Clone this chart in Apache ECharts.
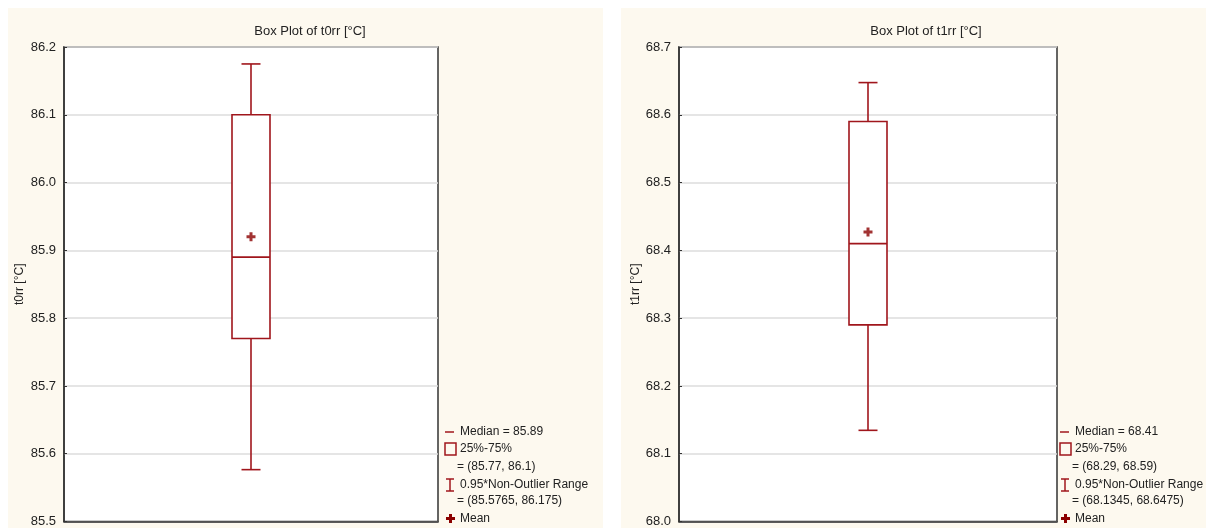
<!DOCTYPE html>
<html>
<head>
<meta charset="utf-8">
<script src="https://cdn.jsdelivr.net/npm/echarts@6/dist/echarts.min.js"></script>
<style>
html,body{margin:0;padding:0;background:#fff;}
#c{width:1206px;height:528px;}
</style>
</head>
<body>
<div id="c"></div>
<script>
// ---- data ----
const categories = ['t0rr', 't1rr'];
const titles = ['Box Plot of t0rr [°C]', 'Box Plot of t1rr [°C]'];
const axisNames = ['t0rr [°C]', 't1rr [°C]'];
const whiskerLow = [85.5765, 68.1345];
const q1 = [85.77, 68.29];
const median = [85.89, 68.41];
const q3 = [86.1, 68.59];
const whiskerHigh = [86.175, 68.6475];
const means = [85.92, 68.427];
const yMin = [85.5, 68.0];
const yMax = [86.2, 68.7];
const yStep = 0.1;

// ---- styling / layout ----
const FONT = 'Liberation Sans, Arial, sans-serif';
const BOX = '#a0161c';
const MEAN = '#8b0000';
const TXT = '#222';
const panels = [
  {px: 8, pw: 595, gl: 64, gw: 374, titleX: 305, symX: 445, txtX: 460, eqX: 457, nameGap: 38},
  {px: 621, pw: 585, gl: 679, gw: 378, titleX: 921, symX: 1060, txtX: 1075, eqX: 1072, nameGap: 37}
];
const GT = 47, GH = 475;

const chart = echarts.init(document.getElementById('c'));

function renderBox(params, api) {
  const x = api.value(0);
  const lo = api.coord([x, api.value(1)]);
  const b1 = api.coord([x, api.value(2)]);
  const md = api.coord([x, api.value(3)]);
  const b3 = api.coord([x, api.value(4)]);
  const hi = api.coord([x, api.value(5)]);
  const cx = Math.round(lo[0]);
  const bw = 38, cw = 19;
  const st = {stroke: BOX, lineWidth: 1.6, fill: null};
  return {
    type: 'group',
    children: [
      {type: 'line', shape: {x1: cx, y1: hi[1], x2: cx, y2: b3[1]}, style: st},
      {type: 'line', shape: {x1: cx - cw / 2, y1: hi[1], x2: cx + cw / 2, y2: hi[1]}, style: st},
      {type: 'line', shape: {x1: cx, y1: lo[1], x2: cx, y2: b1[1]}, style: st},
      {type: 'line', shape: {x1: cx - cw / 2, y1: lo[1], x2: cx + cw / 2, y2: lo[1]}, style: st},
      {type: 'rect', shape: {x: cx - bw / 2, y: b3[1], width: bw, height: b1[1] - b3[1]},
        style: {stroke: BOX, lineWidth: 1.6, fill: '#fff'}},
      {type: 'line', shape: {x1: cx - bw / 2, y1: md[1], x2: cx + bw / 2, y2: md[1]}, style: st}
    ]
  };
}

function plusPts(x, y) {
  return [[x + 3, y], [x + 6, y], [x + 6, y + 3], [x + 9, y + 3], [x + 9, y + 6], [x + 6, y + 6],
          [x + 6, y + 9], [x + 3, y + 9], [x + 3, y + 6], [x, y + 6], [x, y + 3], [x + 3, y + 3]];
}

const grids = [], xAxes = [], yAxes = [], series = [], titleOpts = [], graphics = [];
panels.forEach((p, i) => {
  graphics.push({type: 'rect', z: -10, shape: {x: p.px, y: 8, width: p.pw, height: 520},
    style: {fill: '#fdf9ef'}});
  titleOpts.push({text: titles[i], left: p.titleX, top: 20, textAlign: 'center',
    textStyle: {fontSize: 13, fontWeight: 'normal', color: TXT, fontFamily: FONT}});
  grids.push({left: p.gl, top: GT, width: p.gw, height: GH, show: true,
    backgroundColor: '#fff', borderColor: '#333', borderWidth: 1.5});
  xAxes.push({type: 'category', gridIndex: i, data: [categories[i]],
    axisLine: {show: true, lineStyle: {color: '#333', width: 1.5}},
    axisTick: {show: false}, axisLabel: {show: false}, splitLine: {show: false}});
  yAxes.push({type: 'value', gridIndex: i, min: yMin[i], max: yMax[i], interval: yStep,
    name: axisNames[i], nameLocation: 'middle', nameGap: p.nameGap,
    nameTextStyle: {fontSize: 12, color: TXT, fontFamily: FONT},
    axisLine: {show: true, lineStyle: {color: '#333', width: 1.5}},
    axisTick: {show: true, inside: true, length: 3, lineStyle: {color: '#333'}},
    axisLabel: {fontSize: 13, color: TXT, fontFamily: FONT, margin: 8,
      formatter: v => (+v).toFixed(1)},
    splitLine: {show: true, lineStyle: {color: '#dcdcdc', width: 1.5}}});
  series.push({type: 'custom', xAxisIndex: i, yAxisIndex: i, renderItem: renderBox,
    data: [[0, whiskerLow[i], q1[i], median[i], q3[i], whiskerHigh[i]]], z: 3});
  series.push({type: 'scatter', xAxisIndex: i, yAxisIndex: i,
    symbol: 'path://M3,0H6V3H9V6H6V9H3V6H0V3H3Z', symbolSize: 9,
    itemStyle: {color: MEAN}, data: [[0, means[i]]], z: 4});

  // legend (text built from the data arrays)
  const ts = {fill: TXT, fontSize: 12, fontFamily: FONT, verticalAlign: 'middle', align: 'left'};
  const sx = p.symX, tx = p.txtX;
  const ls = {stroke: BOX, lineWidth: 1.5};
  graphics.push(
    {type: 'line', shape: {x1: sx, y1: 432, x2: sx + 9, y2: 432}, style: ls},
    {type: 'text', x: tx, y: 432, style: Object.assign({text: 'Median = ' + median[i]}, ts)},
    {type: 'rect', shape: {x: sx, y: 443, width: 11, height: 12}, style: {stroke: BOX, lineWidth: 1.5, fill: null}},
    {type: 'text', x: tx, y: 449, style: Object.assign({text: '25%-75%'}, ts)},
    {type: 'text', x: p.eqX, y: 467, style: Object.assign({text: '= (' + q1[i] + ', ' + q3[i] + ')'}, ts)},
    {type: 'line', shape: {x1: sx + 5, y1: 479, x2: sx + 5, y2: 491}, style: ls},
    {type: 'line', shape: {x1: sx + 1, y1: 479, x2: sx + 9, y2: 479}, style: ls},
    {type: 'line', shape: {x1: sx + 1, y1: 491, x2: sx + 9, y2: 491}, style: ls},
    {type: 'text', x: tx, y: 485, style: Object.assign({text: '0.95*Non-Outlier Range'}, ts)},
    {type: 'text', x: p.eqX, y: 501, style: Object.assign({text: '= (' + whiskerLow[i] + ', ' + whiskerHigh[i] + ')'}, ts)},
    {type: 'polygon', shape: {points: plusPts(sx + 1, 514)}, style: {fill: MEAN}},
    {type: 'text', x: tx, y: 519, style: Object.assign({text: 'Mean'}, ts)}
  );
});

chart.setOption({
  animation: false,
  backgroundColor: '#fff',
  title: titleOpts,
  grid: grids,
  xAxis: xAxes,
  yAxis: yAxes,
  series: series,
  graphic: {elements: graphics}
});
</script>
</body>
</html>
